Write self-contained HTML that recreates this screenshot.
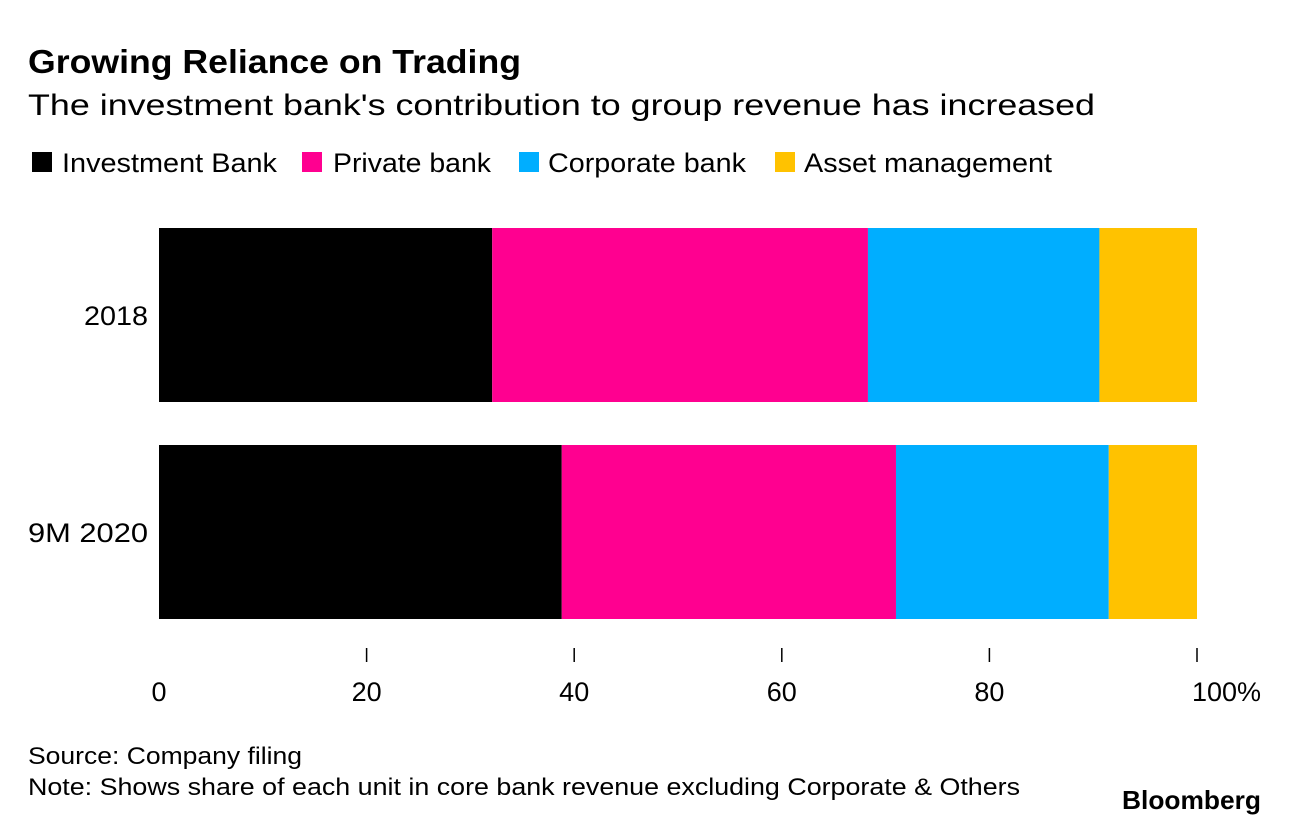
<!DOCTYPE html>
<html><head><meta charset="utf-8">
<style>
body{margin:0;background:#fff;width:1289px;height:826px;overflow:hidden;font-family:"Liberation Sans",sans-serif;}
</style></head>
<body>
<svg id="chart" width="1289" height="826" xmlns="http://www.w3.org/2000/svg">
<text x="28" y="73" font-size="33" font-weight="bold" fill="#000" textLength="493" lengthAdjust="spacingAndGlyphs">Growing Reliance on Trading</text>
<text x="28" y="115" font-size="30" fill="#000" textLength="1067" lengthAdjust="spacingAndGlyphs">The investment bank's contribution to group revenue has increased</text>
<g id="legend"></g>
<g id="bars"></g>
<g id="axis"></g>
<text x="28" y="764" font-size="24" fill="#000" textLength="274" lengthAdjust="spacingAndGlyphs">Source: Company filing</text>
<text x="28" y="795" font-size="24" fill="#000" textLength="992" lengthAdjust="spacingAndGlyphs">Note: Shows share of each unit in core bank revenue excluding Corporate &amp; Others</text>
<text x="1122" y="809" font-size="26" font-weight="bold" fill="#000" textLength="139" lengthAdjust="spacingAndGlyphs">Bloomberg</text>
</svg>
<script>
const categories = ["2018", "9M 2020"];
const seriesNames = ["Investment Bank", "Private bank", "Corporate bank", "Asset management"];
const investmentBank = [32.1, 38.8];
const privateBank = [36.2, 32.2];
const corporateBank = [22.3, 20.5];
const assetManagement = [9.4, 8.5];
const ticks = [0, 20, 40, 60, 80, 100];
const tickLabels = ["0", "20", "40", "60", "80", "100%"];

const series = [investmentBank, privateBank, corporateBank, assetManagement];
const colors = ["#000000", "#ff0090", "#00aeff", "#ffc200"];
const ns = "http://www.w3.org/2000/svg";
const x = v => 159 + v * 10.38;
const bandTop = i => 228 + i * 217;
const bandH = 174;
function mk(tag, attrs, parent){const e=document.createElementNS(ns,tag);for(const k in attrs)e.setAttribute(k,attrs[k]);parent.appendChild(e);return e;}

const legend = document.getElementById('legend');
const swX = [32, 302, 519, 775];
const txX = [62, 333, 548, 804];
const txW = [215, 158, 198, 248];
seriesNames.forEach((n,i)=>{
  const sw = mk('rect',{x:swX[i],y:152,width:20,height:20,fill:colors[i]},legend);
  
  
  const t = mk('text',{x:txX[i],y:172,'font-size':27,fill:'#000',textLength:txW[i],lengthAdjust:'spacingAndGlyphs'},legend);
  t.textContent = n;
  
  
});

const bars = document.getElementById('bars');
const yLabW = [64, 120];
categories.forEach((c,ci)=>{
  let acc = 0;
  series.forEach((s,si)=>{
    const r = mk('rect',{x:x(acc),y:bandTop(ci),width:x(acc+s[ci])-x(acc),height:bandH,fill:colors[si]},bars);
    
    
    acc += s[ci];
  });
  const t = mk('text',{x:148-yLabW[ci],y:bandTop(ci)+bandH/2+10,'font-size':27,fill:'#000',textLength:yLabW[ci],lengthAdjust:'spacingAndGlyphs'},bars);
  t.textContent = c;
  
  
});

const axis = document.getElementById('axis');
ticks.forEach((v,i)=>{
  if(v>0){
    const l = mk('line',{x1:x(v),x2:x(v),y1:648,y2:662,stroke:'#000','stroke-width':1.5},axis);
    
    
  }
  const last = i===ticks.length-1;
  const t = mk('text',{x:last?1261:x(v),y:701,'font-size':27,'text-anchor':last?'end':'middle',fill:'#000'},axis);
  t.textContent = tickLabels[i];
  
  
});
</script>
</body></html>
